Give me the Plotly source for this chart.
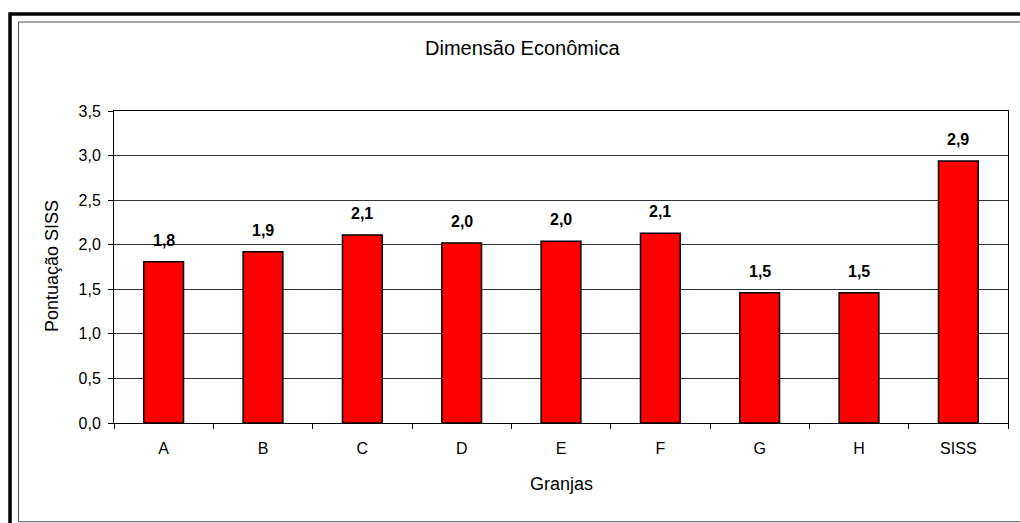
import plotly.graph_objects as go

# Pontuação SISS por granja — dimensão econômica
granjas = ["A", "B", "C", "D", "E", "F", "G", "H", "SISS"]
pontuacao = [1.81, 1.92, 2.11, 2.02, 2.04, 2.13, 1.46, 1.46, 2.94]
y_ticks = [0.0, 0.5, 1.0, 1.5, 2.0, 2.5, 3.0, 3.5]
y_tick_text = ["0,0", "0,5", "1,0", "1,5", "2,0", "2,5", "3,0", "3,5"]

FONT = "Liberation Sans, Arial, sans-serif"
W, H = 1020, 523
ML, MR, MT, MB = 114, 12, 111, 100
PW, PH = W - ML - MR, H - MT - MB


def px_x(px):
    return (px - ML) / PW


def px_y(py):
    return (H - MB - py) / PH


def fmt(v):
    return f"{v:.1f}".replace(".", ",")


fig = go.Figure()
fig.add_trace(go.Bar(
    x=granjas,
    y=pontuacao,
    marker=dict(color="#FF0000", line=dict(color="#000000", width=1.5)),
    hoverinfo="skip",
))

# value labels above each bar
value_labels = [
    dict(x=g, y=v, xref="x", yref="y", text=fmt(v), showarrow=False,
         xanchor="center", yanchor="bottom", yshift=11,
         font=dict(family=FONT, size=16, color="#000000", weight="bold"))
    for g, v in zip(granjas, pontuacao)
]

# chart frame: heavy outer border (top/left) and thin inner border
shapes = [
    dict(type="line", xref="paper", yref="paper", x0=px_x(10), x1=px_x(1030),
         y0=px_y(14), y1=px_y(14), line=dict(color="#000000", width=3.5)),
    dict(type="line", xref="paper", yref="paper", x0=px_x(10), x1=px_x(10),
         y0=px_y(12.3), y1=px_y(530), line=dict(color="#000000", width=3.5)),
    dict(type="line", xref="paper", yref="paper", x0=px_x(18.5), x1=px_x(1030),
         y0=px_y(22), y1=px_y(22), line=dict(color="#555555", width=1)),
    dict(type="line", xref="paper", yref="paper", x0=px_x(18.5), x1=px_x(18.5),
         y0=px_y(22), y1=px_y(521.7), line=dict(color="#555555", width=1)),
    dict(type="line", xref="paper", yref="paper", x0=px_x(18.5), x1=px_x(1030),
         y0=px_y(521.7), y1=px_y(521.7), line=dict(color="#555555", width=1)),
]

annotations = value_labels + [
    dict(text="Dimensão Econômica", xref="paper", yref="paper",
         x=px_x(522), y=px_y(48), xanchor="center", yanchor="middle",
         showarrow=False, font=dict(family=FONT, size=20, color="#000000")),
    dict(text="Granjas", xref="paper", yref="paper",
         x=0.5, y=px_y(484), xanchor="center", yanchor="middle",
         showarrow=False, font=dict(family=FONT, size=18, color="#000000")),
    dict(text="Pontuação SISS", xref="paper", yref="paper",
         x=px_x(52), y=px_y(266), xanchor="center", yanchor="middle",
         textangle=-90, showarrow=False,
         font=dict(family=FONT, size=18, color="#000000")),
]

fig.update_layout(
    width=W, height=H,
    margin=dict(l=ML, r=MR, t=MT, b=MB, pad=0),
    paper_bgcolor="#FFFFFF",
    plot_bgcolor="#FFFFFF",
    bargap=0.6,
    showlegend=False,
    separators=",.",
    shapes=shapes,
    annotations=annotations,
    font=dict(family=FONT, color="#000000"),
)

fig.update_xaxes(
    type="category",
    showgrid=False,
    showline=True, linecolor="#000000", linewidth=1,
    mirror=True,
    ticks="outside", tickson="boundaries", ticklen=5,
    tickcolor="#000000", tickwidth=1,
    ticklabelstandoff=11,
    tickfont=dict(family=FONT, size=16, color="#000000"),
)

fig.update_yaxes(
    range=[0, 3.5],
    tickvals=y_ticks,
    ticktext=y_tick_text,
    showgrid=True, gridcolor="#333333", gridwidth=1,
    showline=True, linecolor="#000000", linewidth=1,
    mirror=True,
    zeroline=False,
    ticks="outside", ticklen=5, tickcolor="#000000", tickwidth=1,
    ticklabelstandoff=4,
    tickfont=dict(family=FONT, size=16, color="#000000"),
)

fig.write_html("out.html")
